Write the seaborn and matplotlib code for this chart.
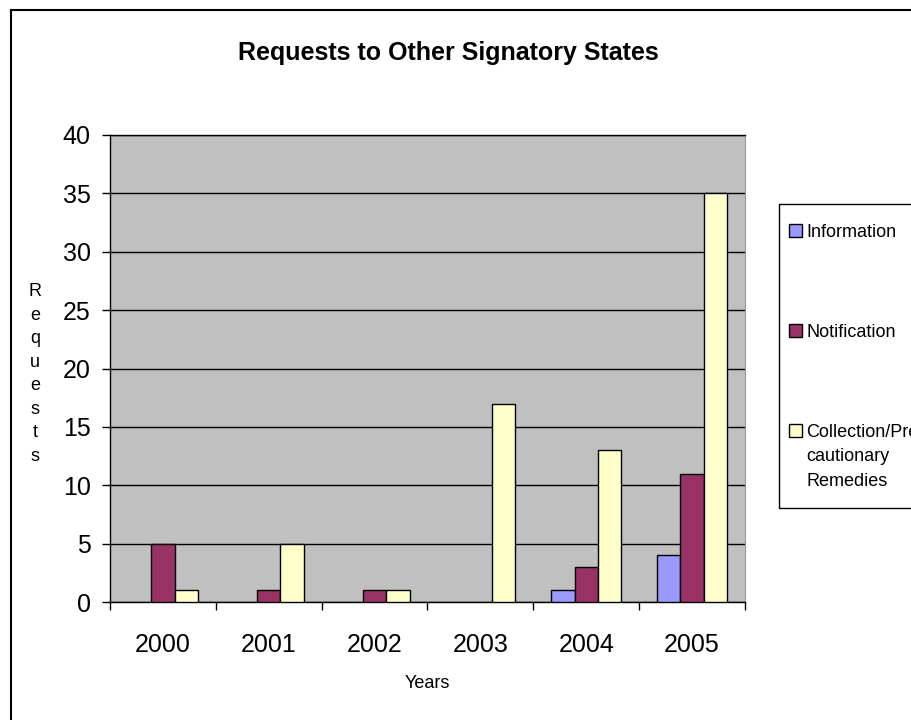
import numpy as np
import pandas as pd
import matplotlib
matplotlib.use("Agg")
import matplotlib.pyplot as plt
from matplotlib.patches import Patch, Rectangle
import seaborn as sns

sns.set_style("white")
plt.rcParams['font.family'] = ['Liberation Sans', 'DejaVu Sans']
plt.rcParams['text.color'] = 'black'
plt.rcParams['xtick.color'] = 'black'
plt.rcParams['ytick.color'] = 'black'
plt.rcParams['xtick.labelcolor'] = 'black'
plt.rcParams['ytick.labelcolor'] = 'black'

# data
years = ["2000", "2001", "2002", "2003", "2004", "2005"]
information = [0, 0, 0, 0, 1, 4]
notification = [5, 1, 1, 0, 3, 11]
collection = [1, 5, 1, 17, 13, 35]
series_names = ["Information", "Notification", "Collection/Precautionary Remedies"]
colors = ["#9999FF", "#993366", "#FFFFCC"]

df = pd.DataFrame({
    "Year": years * 3,
    "Requests": information + notification + collection,
    "Type": [series_names[0]] * 6 + [series_names[1]] * 6 + [series_names[2]] * 6,
})

fig = plt.figure(figsize=(9.12, 7.2), dpi=100)
ax = fig.add_axes([110 / 912, 1 - 602 / 720, (745 - 110) / 912, (602 - 135) / 720])
ax.set_facecolor("#C0C0C0")

sns.barplot(data=df, x="Year", y="Requests", hue="Type", hue_order=series_names,
            palette=colors, saturation=1, width=0.66, edgecolor="black",
            linewidth=1.0, legend=False, ax=ax, zorder=3)

# hide zero-height bars (Excel draws nothing there)
for p in ax.patches:
    if p.get_height() == 0:
        p.set_visible(False)

ax.set_ylim(0, 40)
ax.set_xlim(-0.5, 5.5)
ax.set_yticks(np.arange(0, 41, 5))
ax.yaxis.grid(True, color="black", linewidth=1.0, zorder=0)
ax.set_axisbelow(True)

# category boundaries as ticks, labels at centers
ax.set_xticks(np.arange(-0.5, 6, 1))
ax.set_xticklabels([])
ax.set_xticks(np.arange(0, 6), minor=True)
ax.set_xticklabels(years, minor=True)
ax.tick_params(axis="x", which="major", direction="out", length=6, width=1, bottom=True)
ax.tick_params(axis="x", which="minor", length=0, pad=22, labelsize=18)
ax.tick_params(axis="y", direction="out", length=6, width=1, left=True, pad=8, labelsize=18)
ax.set_xlabel("")
ax.set_ylabel("")

for side in ["left", "bottom", "top"]:
    ax.spines[side].set_color("black")
    ax.spines[side].set_linewidth(1.0)
ax.spines["right"].set_color("#9a9a9a")

fig.text(448 / 912, 1 - 53 / 720, "Requests to Other Signatory States",
         ha="center", va="center", fontsize=18, fontweight="bold")
fig.text(427 / 912, 1 - 684 / 720, "Years", ha="center", va="center", fontsize=13)
fig.text(35 / 912, 1 - 374 / 720, "\n".join("Requests"), ha="center", va="center",
         fontsize=13, linespacing=1.5)

# legend: entries without frame, frame drawn as a box that runs off the right edge
handles = [Patch(facecolor=c, edgecolor="black", linewidth=1.0) for c in colors]
leg = fig.legend(handles, ["Information", "Notification", "Collection/Pre"],
                 loc="upper left", bbox_to_anchor=(789 / 912, 1 - 224 / 720),
                 fontsize=13, frameon=False, handlelength=0.7, handleheight=0.7,
                 handletextpad=0.25, labelspacing=4.6, borderpad=0, borderaxespad=0)
fig.patches.append(Rectangle((779 / 912, 1 - 508 / 720), 0.5, (508 - 204) / 720,
                             transform=fig.transFigure, fill=False,
                             edgecolor="black", linewidth=1.0))

fig.canvas.draw()
last = leg.get_texts()[-1].get_window_extent()
fig.text(last.x0 / 912, (last.y0 - 7) / 720, "cautionary\nRemedies",
         ha="left", va="top", fontsize=13, linespacing=1.6)

fig.patches.append(Rectangle((11 / 912, -0.1), 1.2, 1.1 - 10 / 720, transform=fig.transFigure,
                             fill=False, edgecolor="black", linewidth=1.5))

fig.savefig("out.png", dpi=100)
